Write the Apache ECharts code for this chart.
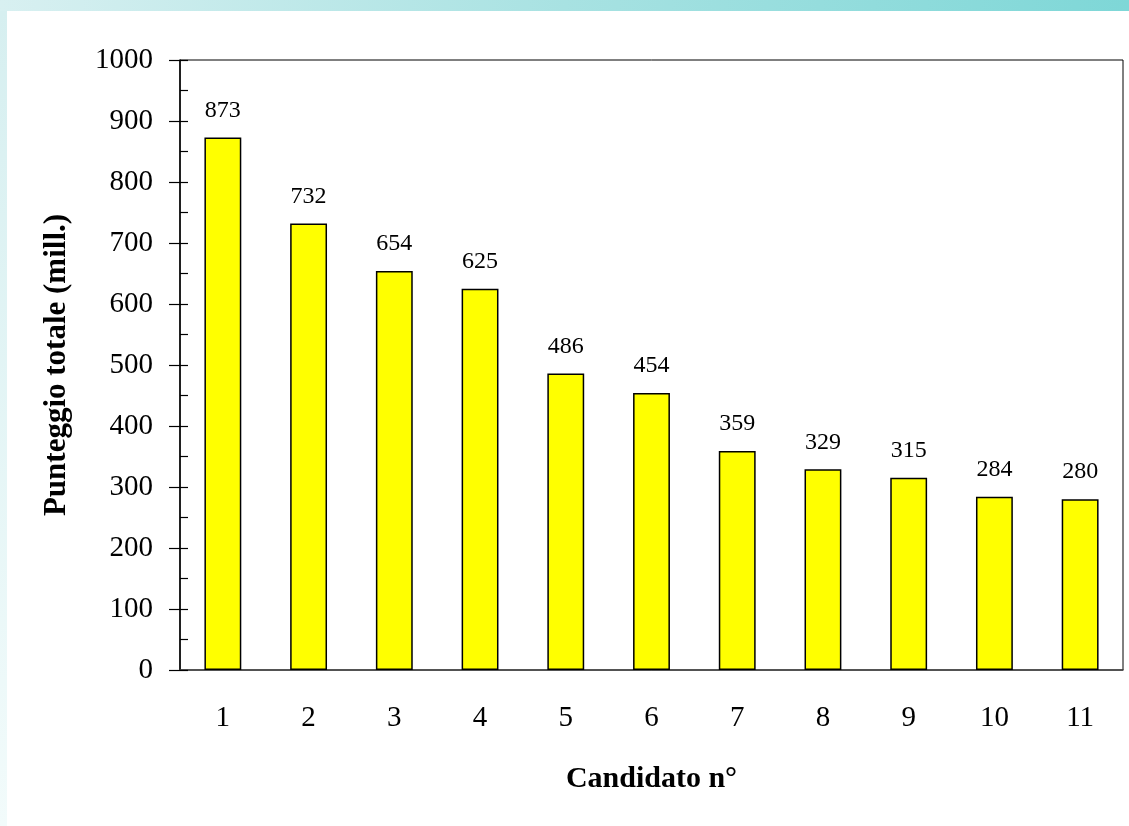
<!DOCTYPE html>
<html><head><meta charset="utf-8">
<script src="https://cdn.jsdelivr.net/npm/echarts@6/dist/echarts.min.js"></script>
<style>html,body{margin:0;padding:0;background:#fff}#c{width:1129px;height:826px}</style>
</head><body><div id="c"></div>
<script>
const categories = ['1','2','3','4','5','6','7','8','9','10','11'];
const values = [873, 732, 654, 625, 486, 454, 359, 329, 315, 284, 280];
const yTicks = { min: 0, max: 1000, interval: 100 };

const chart = echarts.init(document.getElementById('c'));
const serif = '"Liberation Serif", "DejaVu Serif", serif';
chart.setOption({
  animation: false,
  backgroundColor: '#ffffff',
  graphic: [
    { type: 'rect', z: -10, shape: { x: 0, y: 0, width: 1129, height: 11 },
      style: { fill: new echarts.graphic.LinearGradient(0, 0, 1, 0, [
        { offset: 0, color: '#d8f0f1' }, { offset: 0.5, color: '#a8e2e2' }, { offset: 1, color: '#7ed7d7' }]) } },
    { type: 'rect', z: -10, shape: { x: 0, y: 11, width: 7, height: 815 },
      style: { fill: new echarts.graphic.LinearGradient(0, 0, 0, 1, [
        { offset: 0, color: '#d6eff0' }, { offset: 1, color: '#f2fbfb' }]) } }
  ],
  grid: { left: 180, right: 6, top: 60, bottom: 156, show: true, borderColor: '#000', borderWidth: 1, backgroundColor: 'transparent' },
  xAxis: {
    type: 'category', data: categories,
    name: 'Candidato n°', nameLocation: 'middle', nameGap: 94,
    nameTextStyle: { fontFamily: serif, fontSize: 30, fontWeight: 'bold', color: '#000' },
    axisLine: { show: true, lineStyle: { color: '#444', width: 1.5 } },
    axisTick: { show: false },
    axisLabel: { fontFamily: serif, fontSize: 29, color: '#000', margin: 34 }
  },
  yAxis: [{
    type: 'value', min: yTicks.min, max: yTicks.max, interval: yTicks.interval,
    name: 'Punteggio totale (mill.)', nameLocation: 'middle', nameGap: 108, nameRotate: 90,
    nameTextStyle: { fontFamily: serif, fontSize: 31, fontWeight: 'bold', color: '#000' },
    axisLine: { show: true, lineStyle: { color: '#000', width: 1.5 } },
    axisTick: { show: true, length: 11, lineStyle: { color: '#000', width: 1.2 } },
    axisLabel: { fontFamily: serif, fontSize: 29, color: '#000', margin: 27, formatter: v => String(v) },
    splitLine: { show: false }
  }, {
    type: 'value', position: 'left', offset: 0, min: yTicks.min, max: yTicks.max, interval: yTicks.interval / 2,
    axisLine: { show: false },
    axisTick: { show: true, inside: true, length: 8, lineStyle: { color: '#000', width: 1.2 } },
    axisLabel: { show: false },
    splitLine: { show: false }
  }],
  series: [{
    type: 'bar', data: values, barWidth: '43%',
    itemStyle: { color: '#ffff00', borderColor: '#000', borderWidth: 1.5 },
    label: { show: true, position: 'top', distance: 15, fontFamily: serif, fontSize: 24, color: '#000' }
  }]
});
</script></body></html>
